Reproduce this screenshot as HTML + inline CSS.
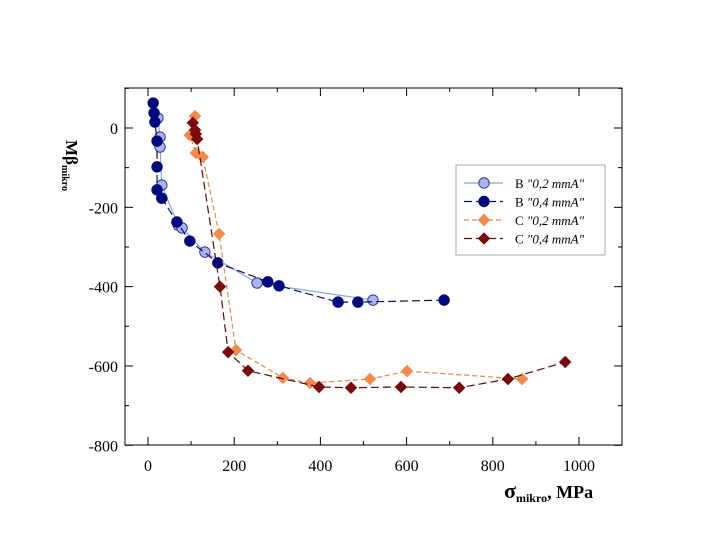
<!DOCTYPE html>
<html><head><meta charset="utf-8"><style>
body{margin:0;background:#fff}
svg{display:block;font-family:"Liberation Serif",serif}
</style></head><body>
<svg id="chart" width="720" height="540" viewBox="0 0 720 540" xmlns="http://www.w3.org/2000/svg">
<g id="axes"></g>
<g id="series"></g>
<g id="legend"></g>
</svg>
<script>
const xTicks=[0,200,400,600,800,1000];
const yTicks=[0,-200,-400,-600,-800];
const b02x=[23,28,28,32,70,79,132,253,522];
const b02y=[25,-23,-48,-144,-245,-252,-313,-391,-434];
const b04x=[12,14,16,21,21,21,32,67,97,162,278,304,441,487,687];
const b04y=[63,38,15,-33,-98,-156,-177,-237,-285,-340,-388,-398,-439,-439,-434];
const c02x=[109,97,111,127,165,204,313,376,515,601,868];
const c02y=[30,-18,-63,-73,-267,-560,-630,-643,-633,-613,-633];
const c04x=[104,109,111,114,167,186,232,397,471,587,722,835,968];
const c04y=[13,-5,-15,-28,-400,-565,-612,-653,-655,-653,-655,-633,-590];
const seriesNames=['B "0,2 mmA"','B "0,4 mmA"','C "0,2 mmA"','C "0,4 mmA"'];

const L=125,R=622,T=88,B=445;
const X=v=>148+v*0.431;
const Y=v=>128-v*0.3966;
const NS="http://www.w3.org/2000/svg";
function mk(tag,attrs,parent){const e=document.createElementNS(NS,tag);for(const k in attrs)e.setAttribute(k,attrs[k]);parent.appendChild(e);return e;}
const ax=document.getElementById('axes');
const fr=mk('rect',{x:L,y:T,width:R-L,height:B-T,fill:'none',stroke:'#000','stroke-width':1},ax);


for(let v=0;v<=1100;v+=100){
  const x=X(v); if(x>R)break;
  const len=v%200===0?8:4;
  mk('line',{x1:x,y1:B,x2:x,y2:B-len,stroke:'#000'},ax);
  mk('line',{x1:x,y1:T,x2:x,y2:T+len,stroke:'#000'},ax);
}
for(let v=100;v>=-800;v-=100){
  const y=Y(v);
  const len=v%200===0?8:4;
  mk('line',{x1:L,y1:y,x2:L+len,y2:y,stroke:'#000'},ax);
  mk('line',{x1:R,y1:y,x2:R-len,y2:y,stroke:'#000'},ax);
}
xTicks.forEach(v=>{
  const t=mk('text',{x:X(v),y:471,'text-anchor':'middle','font-size':16},ax);
  t.textContent=v;
  
  
});
yTicks.forEach(v=>{
  const t=mk('text',{x:118,y:Y(v)+6,'text-anchor':'end','font-size':16},ax);
  t.textContent=v;
  
  
});
const xt=mk('text',{x:504,y:498,'font-size':18,'font-weight':'bold'},ax);
xt.innerHTML='<tspan font-size="22">σ</tspan><tspan font-size="12" dy="4">mikro</tspan><tspan dy="-4">, MPa</tspan>';


const yt=mk('text',{x:0,y:0,'font-size':17,'font-weight':'bold',transform:'translate(66,140) rotate(90)'},ax);
yt.innerHTML='Mβ<tspan font-size="10" dy="4">mikro</tspan>';



const sg=document.getElementById('series');
function marker(shape,x,y,fill,stroke,g){
  if(shape==='c') return mk('circle',{cx:x,cy:y,r:5.2,fill:fill,stroke:stroke,'stroke-width':1},g);
  return mk('polygon',{points:`${x},${y-6} ${x+6},${y} ${x},${y+6} ${x-6},${y}`,fill:fill,stroke:stroke,'stroke-width':0.5},g);
}
const defs=[
 {xs:b02x,ys:b02y,line:'#8fa0e0',fill:'#aab4ee',stroke:'#2a3a9a',shape:'c',dash:'',name:'series-b-02'},
 {xs:b04x,ys:b04y,line:'#00106a',fill:'#000a80',stroke:'#000a80',shape:'c',dash:'8,4',name:'series-b-04'},
 {xs:c02x,ys:c02y,line:'#e8854a',fill:'#f5894a',stroke:'#f5894a',shape:'d',dash:'5,3',name:'series-c-02'},
 {xs:c04x,ys:c04y,line:'#5a0a0a',fill:'#7a0a0a',stroke:'#7a0a0a',shape:'d',dash:'8,4',name:'series-c-04'}
];
defs.forEach(d=>{
  const g=mk('g',{},sg);
  
  
  const pts=d.xs.map((v,i)=>X(v)+','+Y(d.ys[i])).join(' ');
  mk('polyline',{points:pts,fill:'none',stroke:d.line,'stroke-width':1.2,'stroke-dasharray':d.dash},g);
  d.xs.forEach((v,i)=>{
    const m=marker(d.shape,X(v),Y(d.ys[i]),d.fill,d.stroke,g);
    
    
  });
});
const lg=document.getElementById('legend');
mk('rect',{x:456,y:165,width:149,height:90,fill:'#fff',stroke:'#aaa'},lg);
defs.forEach((d,i)=>{
  const y=183+i*18.5;
  const e=mk('g',{},lg);
  
  
  mk('line',{x1:464,y1:y,x2:503,y2:y,stroke:d.line,'stroke-width':1.2,'stroke-dasharray':d.dash},e);
  marker(d.shape,484,y,d.fill,d.stroke,e);
  const t=mk('text',{x:515,y:y+5,'font-size':13},e);
  t.innerHTML=seriesNames[i].replace(/"(.*)"/,'<tspan font-style="italic">"$1"</tspan>');
});
</script>
</body></html>
